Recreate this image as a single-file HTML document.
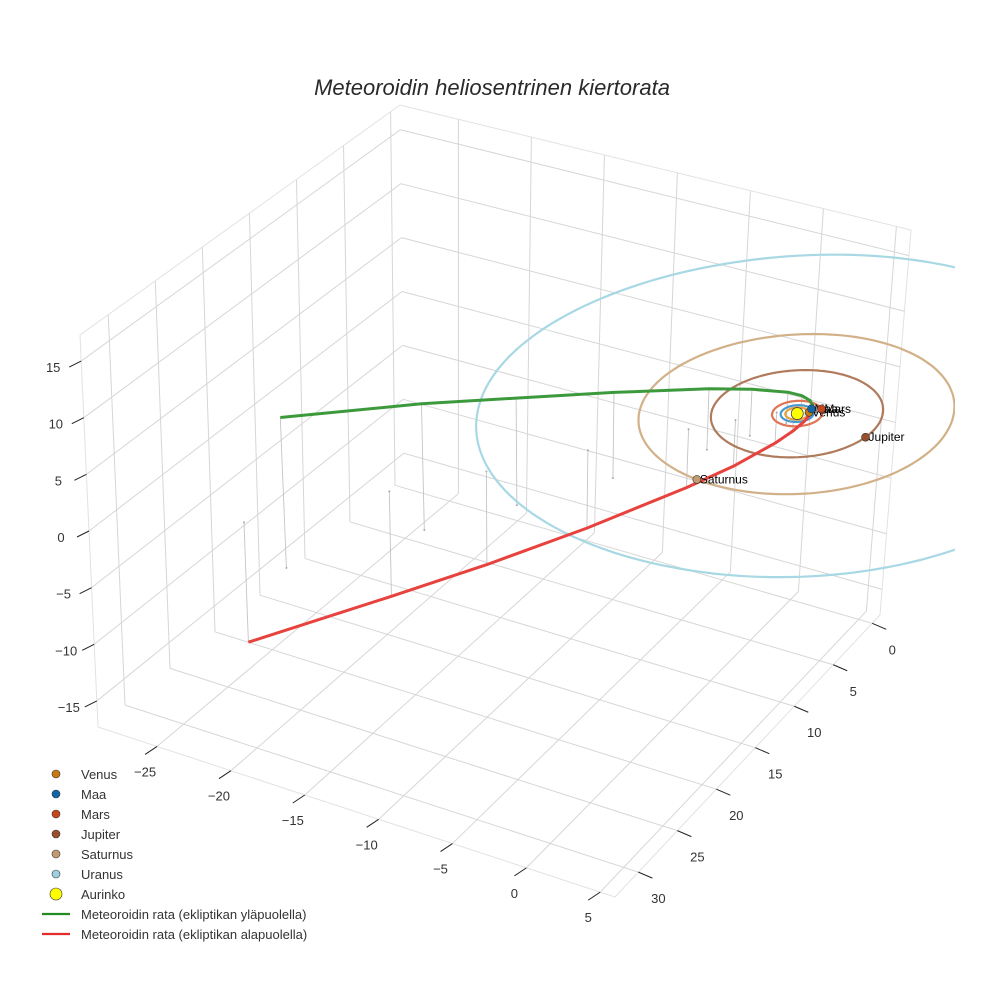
<!DOCTYPE html>
<html><head><meta charset="utf-8"><style>
html,body{margin:0;padding:0;background:#fff}
svg{display:block;font-family:"Liberation Sans",sans-serif}
</style></head><body>
<svg id="chart" width="984" height="984" viewBox="0 0 984 984" xmlns="http://www.w3.org/2000/svg">
<defs><clipPath id="clipArea"><rect x="0" y="0" width="960" height="984"/></clipPath></defs>
<rect width="984" height="984" fill="#fff"/>
<text x="492" y="95" text-anchor="middle" font-size="22" font-style="italic" fill="#2a2a2a">Meteoroidin heliosentrinen kiertorata</text>
<g id="grid"></g>
<g id="marks" transform="translate(-5,6)"></g>
<g id="legend"></g>
</svg>
<script>
// ---- data ----
const xTicks = [-25,-20,-15,-10,-5,0,5];
const yTicks = [0,5,10,15,20,25,30];
const zTicks = [-15,-10,-5,0,5,10,15];
const planetNames = ["Venus","Maa","Mars","Jupiter","Saturnus","Uranus"];
const orbitRadii = [0.72,1.0,1.52,5.2,9.54,19.2];
const planetX = [0.56,0.48,1.02,5.17,-1.3,0];
const planetY = [-0.45,-0.87,-1.13,0.55,9.45,0];
const planetShown = [true,true,true,true,true,false];
const planetColors = ["#c77a12","#1266a8","#c8461c","#9a4f2c","#c49a70","#9fd0e0"];
const orbitColors = ["#e8a040","#4a98d0","#e07454","#b07a5c","#d2b088","#a8d8e4"];
const greenX = [0.57,0.639,0.617,0.41,-0.007,-1.17,-2.60,-5.82,-9.15,-12.37,-17.0];
const greenY = [-0.82,-0.684,-0.382,0.286,1.262,3.56,6.16,11.65,17.12,22.3,30.16];
const greenZ = [0,0.519,1.118,1.936,2.766,4.15,5.4,7.5,9.3,10.9,12.9];
const redX = [0.57,0.419,0.143,-0.41,-1.179,-2.93,-4.86,-8.88,-12.85,-16.59,-22.0];
const redY = [-0.82,-0.838,-0.712,-0.286,0.444,2.34,4.58,9.51,14.54,19.36,26.74];
const redZ = [0,-0.519,-1.118,-1.936,-2.766,-4.15,-5.2,-6.9,-8.2,-9.2,-10.5];

// ---- axes (box projection) ----
const X0=-29, X1=6, Y0=-1, Y1=33, Z0=-17.3, Z1=17.3;
const F00=[404,478],F10=[880,615],F01=[98,727],F11=[615,897];
const T00=[400,105],T10=[911,230],T01=[80,335],T11=[595,465];
function bil(a,b,c,d,u,v){return [a[0]*(1-u)*(1-v)+b[0]*u*(1-v)+c[0]*(1-u)*v+d[0]*u*v, a[1]*(1-u)*(1-v)+b[1]*u*(1-v)+c[1]*(1-u)*v+d[1]*u*v];}
function P(x,y,z){
  const u=(x-X0)/(X1-X0), v=(y-Y0)/(Y1-Y0), w=(z-Z0)/(Z1-Z0);
  const f=bil(F00,F10,F01,F11,u,v), t=bil(T00,T10,T01,T11,u,v);
  return [f[0]*(1-w)+t[0]*w, f[1]*(1-w)+t[1]*w];
}
const NS="http://www.w3.org/2000/svg";
function mk(tag,parent,attrs){const e=document.createElementNS(NS,tag);for(const k in attrs)e.setAttribute(k,attrs[k]);parent.appendChild(e);return e;}
function line3(parent,a,b,stroke,sw){const p=P(...a),q=P(...b);return mk("line",parent,{x1:p[0],y1:p[1],x2:q[0],y2:q[1],stroke:stroke,"stroke-width":sw});}
function path3(pts){return pts.map((p,i)=>{const s=P(...p);return (i?"L":"M")+s[0].toFixed(1)+","+s[1].toFixed(1);}).join("");}

const grid=document.getElementById("grid");
const GC="#d6d6d6";
yTicks.forEach(y=>{const l=line3(grid,[X0,y,Z0],[X0,y,Z1],GC,1);

});
zTicks.forEach(z=>{const l=line3(grid,[X0,Y0,z],[X0,Y1,z],GC,1);

});
xTicks.forEach(x=>{const l=line3(grid,[x,Y0,Z0],[x,Y0,Z1],GC,1);

});
zTicks.forEach(z=>{const l=line3(grid,[X0,Y0,z],[X1,Y0,z],GC,1);

});
xTicks.forEach(x=>{const l=line3(grid,[x,Y0,Z0],[x,Y1,Z0],GC,1);

});
yTicks.forEach(y=>{const l=line3(grid,[X0,y,Z0],[X1,y,Z0],GC,1);

});
[[[X0,Y0,Z1],[X1,Y0,Z1]],[[X0,Y0,Z1],[X0,Y1,Z1]],[[X0,Y1,Z0],[X0,Y1,Z1]],[[X1,Y0,Z0],[X1,Y0,Z1]],
 [[X0,Y1,Z0],[X1,Y1,Z0]],[[X1,Y0,Z0],[X1,Y1,Z0]]].forEach(e=>{const l=line3(grid,e[0],e[1],"#e2e2e2",1);

});
xTicks.forEach(x=>{const p=P(x,Y1,Z0);
const t=mk("line",grid,{x1:p[0],y1:p[1],x2:p[0]-12,y2:p[1]+8,stroke:"#222","stroke-width":1});


const tx=mk("text",grid,{x:p[0]-12,y:p[1]+30,"text-anchor":"middle","font-size":13,fill:"#333"});
tx.textContent=(x<0?"\u2212"+(-x):x);

});
yTicks.forEach(y=>{const p=P(X1,y,Z0);
const t=mk("line",grid,{x1:p[0],y1:p[1],x2:p[0]+14,y2:p[1]+6,stroke:"#222","stroke-width":1});


const tx=mk("text",grid,{x:p[0]+20,y:p[1]+31,"text-anchor":"middle","font-size":13,fill:"#333"});
tx.textContent=y;

});
zTicks.forEach(z=>{const p=P(X0,Y1,z);
const t=mk("line",grid,{x1:p[0],y1:p[1],x2:p[0]-12,y2:p[1]+6,stroke:"#222","stroke-width":1});


const tx=mk("text",grid,{x:p[0]-28,y:p[1]+11,"text-anchor":"middle","font-size":13,fill:"#333"});
tx.textContent=(z<0?"\u2212"+(-z):z);

});

const marks=document.getElementById("marks");
function drops(xs,ys,zs){for(let i=2;i<xs.length;i++){
  const a=P(xs[i],ys[i],zs[i]),b=P(xs[i],ys[i],0);
  const l=mk("line",marks,{x1:a[0],y1:a[1],x2:b[0],y2:b[1],stroke:"#c4c4c4","stroke-width":0.9});
  
  
  const d=mk("circle",marks,{cx:b[0],cy:b[1],r:1,fill:"#aaa"});
  
  }}
drops(greenX,greenY,greenZ); drops(redX,redY,redZ);
const og=mk("g",marks,{"clip-path":"url(#clipArea)"});
orbitRadii.forEach((r,k)=>{const pts=[];for(let i=0;i<=180;i++){const a=i/180*2*Math.PI;pts.push([r*Math.cos(a),r*Math.sin(a),0]);}
const o=mk("path",og,{d:path3(pts),fill:"none",stroke:orbitColors[k],"stroke-width":2.2});

});
const gp=[],rp=[];
greenX.forEach((x,i)=>gp.push([x,greenY[i],greenZ[i]]));
redX.forEach((x,i)=>rp.push([x,redY[i],redZ[i]]));
const gl=mk("path",marks,{d:path3(gp),fill:"none",stroke:"#3c9a3c","stroke-width":3,"stroke-linejoin":"round"});


const rl=mk("path",marks,{d:path3(rp),fill:"none",stroke:"#e8423e","stroke-width":3,"stroke-linejoin":"round"});


const s=P(0,0,0);
const sun=mk("circle",marks,{cx:s[0],cy:s[1],r:6,fill:"#ffff00",stroke:"#444","stroke-width":0.8});


planetNames.forEach((n,k)=>{if(!planetShown[k])return;const p=P(planetX[k],planetY[k],0);
const c=mk("circle",marks,{cx:p[0],cy:p[1],r:4,fill:planetColors[k],stroke:"#333","stroke-width":0.6});


const t=mk("text",marks,{x:p[0]+3,y:p[1]+4,"font-size":12,fill:"#000"});
t.textContent=n;

});

const lg=document.getElementById("legend");
const legNames=planetNames.concat(["Aurinko"]);
const legColors=planetColors.concat(["#ffff00"]);
legNames.forEach((n,i)=>{const y=774+i*20;
const c=mk("circle",lg,{cx:56,cy:y,r:n==="Aurinko"?6:4,fill:legColors[i],stroke:"#333","stroke-width":0.6});


const t=mk("text",lg,{x:81,y:y+5,"font-size":13,fill:"#333"});
t.textContent=n;

});
[["Meteoroidin rata (ekliptikan yläpuolella)","#228b22"],["Meteoroidin rata (ekliptikan alapuolella)","#e42c2c"]].forEach((e,i)=>{const y=914+i*20;
const l=mk("line",lg,{x1:42,y1:y,x2:70,y2:y,stroke:e[1],"stroke-width":2.2});


const t=mk("text",lg,{x:81,y:y+5,"font-size":13,fill:"#333"});
t.textContent=e[0];

});
</script>
</body></html>
